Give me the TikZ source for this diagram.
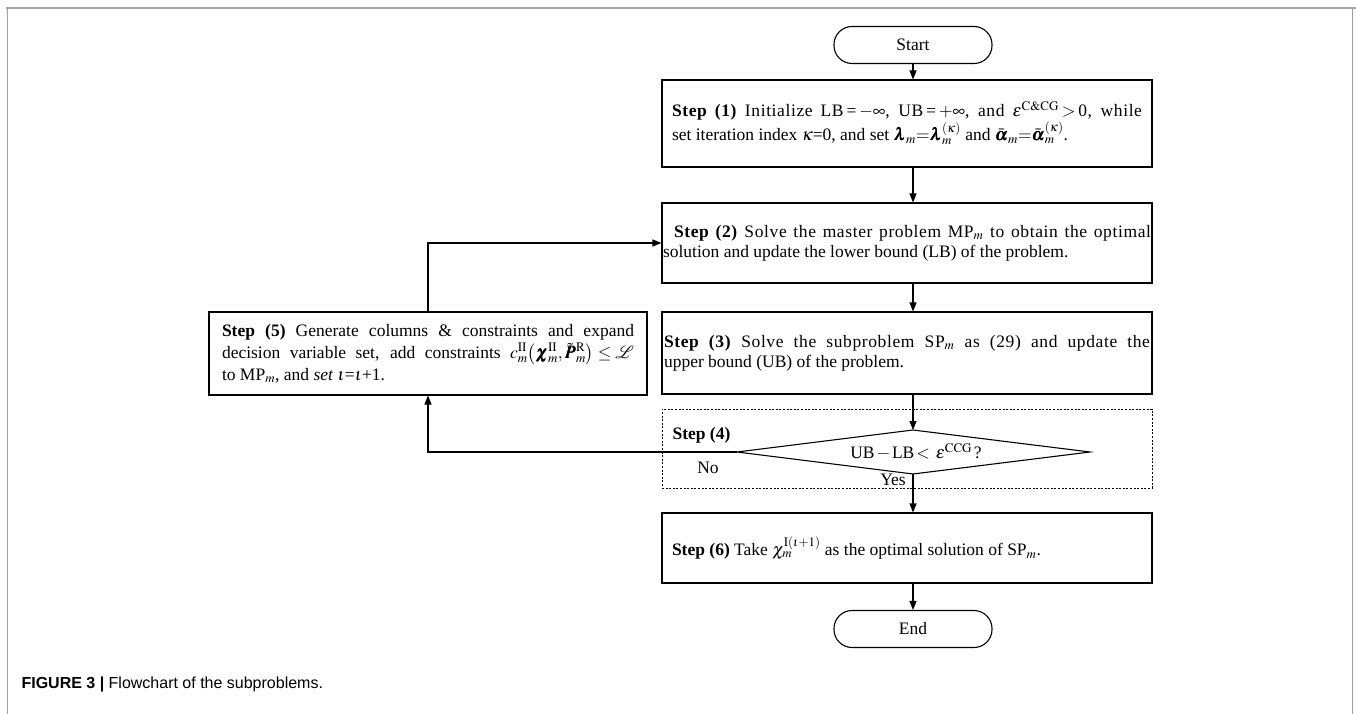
\documentclass[tikz,border=0pt]{standalone}
\usepackage{amsmath,amssymb}
\usepackage{mathptmx}
\usepackage{bm}
\usepackage[no-math]{fontspec}
\setmainfont{Liberation Serif}
\newfontfamily\spaced[LetterSpace=3.5]{Liberation Serif}
\newfontfamily\capfont{Liberation Sans}
\usetikzlibrary{arrows.meta}
\newcommand{\stepfont}{\fontsize{17.5}{20}\selectfont}
\begin{document}
\begin{tikzpicture}[x=1pt,y=-1pt,
  every node/.style={font=\stepfont},
  stepbox/.style={draw, line width=1.1pt, minimum width=490pt, inner sep=0pt},
  stepfive/.style={draw, line width=1.1pt, minimum width=438pt, inner sep=0pt},
  term/.style={draw, line width=1.1pt, minimum width=158pt, minimum height=37pt, rounded corners=18pt, inner sep=0pt},
  arr/.style={line width=1.1pt, -{Triangle[length=9pt,width=7pt]}},
  frameline/.style={draw=gray!75, line width=0.8pt}]
\useasboundingbox (0,0) rectangle (1356,714);
% frame
\draw[gray!70, line width=2.4pt] (6,8) -- (1356,8);
\draw[frameline] (7.5,8) -- (7.5,714);
\draw[frameline] (1352.5,8) -- (1352.5,714);
% nodes
\node[term] (start) at (913,45) {Start};
\node[stepbox, minimum height=87pt] (s1) at (907,123.5) {\begin{minipage}{470pt}\stepfont{\spaced\textbf{Step (1)} Initialize LB\,=\,$-\infty$, UB\,=\,$+\infty$, and $\varepsilon^{\mathrm{C\&CG}}$\,$>$\,0, while}\linebreak set iteration index $\kappa$=0, and set \mbox{$\bm{\lambda}_m{=}\bm{\lambda}_m^{(\kappa)}$} and \mbox{$\bar{\bm{\alpha}}_m{=}\bar{\bm{\alpha}}_m^{(\kappa)}$}.\end{minipage}};
\node[stepbox, minimum height=80pt] (s2) at (907,243) {\begin{minipage}{488pt}\stepfont\hspace*{11pt}{\spaced\textbf{Step (2)} Solve the master problem MP$_m$ to obtain the optimal}\linebreak solution and update the lower bound (LB) of the problem.\end{minipage}};
\node[stepbox, minimum height=82pt] (s3) at (907,353) {\begin{minipage}{486pt}\stepfont{\spaced\textbf{Step (3)} Solve the subproblem SP$_m$ as (29) and update the}\linebreak upper bound (UB) of the problem.\end{minipage}};
\node[stepfive, minimum height=83pt] (s5) at (428,353.5) {\begin{minipage}{412pt}\fontsize{17.5}{22}\selectfont\textbf{Step (5)} Generate columns \& constraints and expand\linebreak decision variable set, add constraints \mbox{$c_m^{\mathrm{II}}\bigl(\bm{\chi}_m^{\mathrm{II}},\tilde{\bm{P}}{}_m^{\mathrm{R}}\bigr)\le\mathcal{L}$}\linebreak to MP$_m$, and \textit{set} $\iota$=$\iota$+1.\end{minipage}};
\node[draw, line width=1pt, dash pattern=on 2pt off 1.6pt, minimum width=490pt, minimum height=79pt, inner sep=0pt] (s4) at (907,448.5) {};
\node[anchor=west] (s4lab) at (669,435) {\textbf{Step (4)}};
\coordinate (dN) at (913,430);
\coordinate (dS) at (913,474);
\coordinate (dW) at (737,452);
\coordinate (dE) at (1090,452);
\draw[line width=1.1pt] (dN) -- (dE) -- (dS) -- (dW) -- cycle;
\node (dia) at (916,452) {UB$\,-\,$LB$\,<\,\varepsilon^{\mathrm{CCG}}\,$?};
\node (no) at (708,468) {No};
\node (yes) at (893,480) {Yes};
\node[stepbox, minimum height=70pt] (s6) at (907,548) {\begin{minipage}{470pt}\stepfont\textbf{Step (6)} Take $\chi_m^{\mathrm{I}(\iota+1)}$ as the optimal solution of SP$_m$.\end{minipage}};
\node[term] (end) at (913,629) {End};
\node[anchor=west, font=\capfont\fontsize{16}{18}\selectfont] (cap) at (18,684) {\textbf{FIGURE 3 |} Flowchart of the subproblems.};
% connectors
\coordinate (cx) at (913,0);
\draw[arr] (start.south) -- (s1.north -| cx);
\draw[arr] (s1.south -| cx) -- (s2.north -| cx);
\draw[arr] (s2.south -| cx) -- (s3.north -| cx);
\draw[arr] (s3.south -| cx) -- (dN);
\draw[arr] (dS) -- (s6.north -| cx);
\draw[arr] (s6.south -| cx) -- (end.north);
\coordinate (c1) at (428,452);
\coordinate (c2) at (428,243);
\draw[arr] (dW) -- (c1) -- (c1 |- s5.south);
\draw[arr] (c1 |- s5.north) -- (c2) -- (s2.west |- c2);
\end{tikzpicture}
\end{document}
